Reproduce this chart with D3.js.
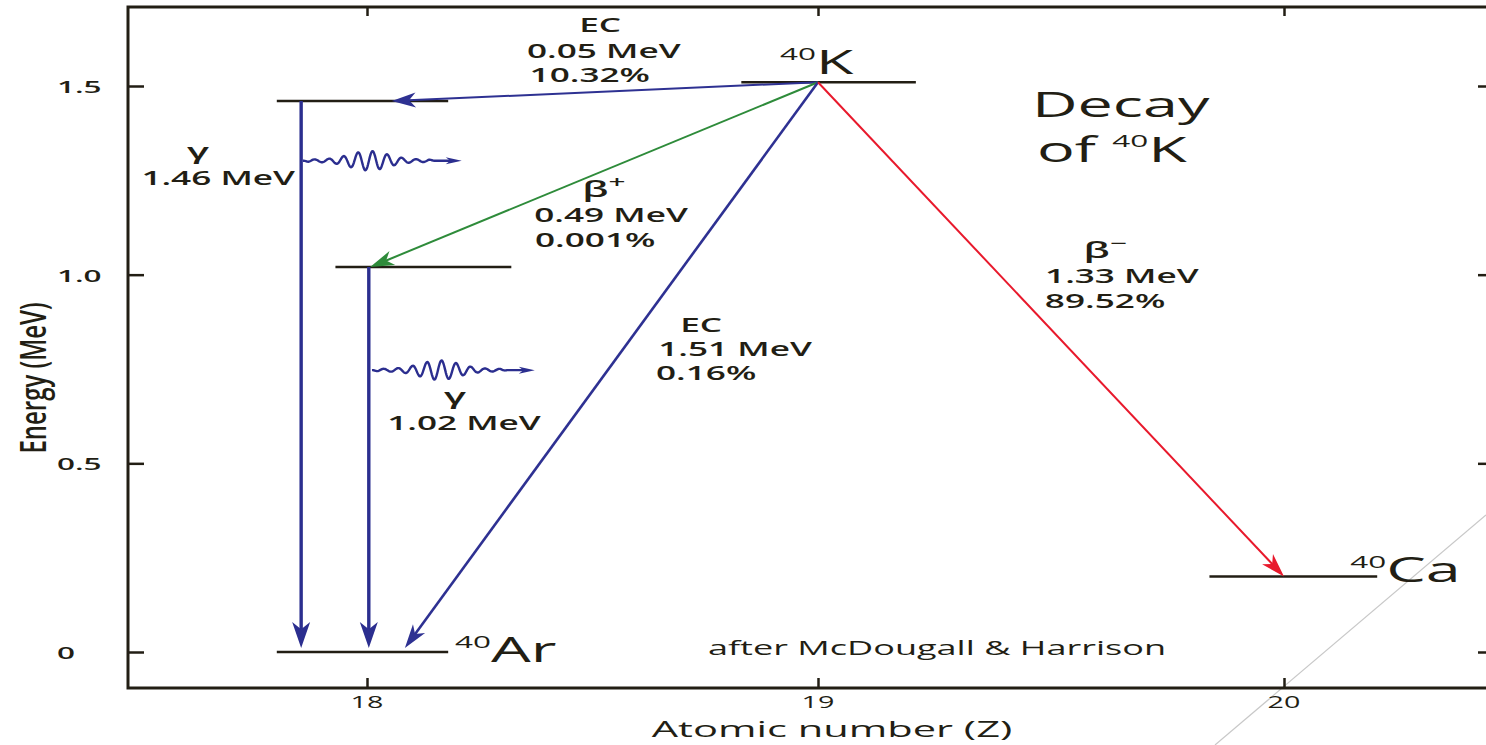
<!DOCTYPE html>
<html><head><meta charset="utf-8">
<script src="https://cdn.jsdelivr.net/npm/d3@7"></script>
<style>
html,body{margin:0;padding:0;background:#fff;overflow:hidden}
text{font-family:"Open Sans",sans-serif;fill:#221e14}
</style></head>
<body><svg id="c" width="1486" height="745"></svg>
<script>
// ---------- data ----------
const zTicks = [18, 19, 20];
const zTickLabels = ["18", "19", "20"];
const eTicks = [0, 0.5, 1.0, 1.5];
const eTickLabels = ["0", "0.5", "1.0", "1.5"];

// energy levels: nuclide, energy (MeV), Z extent
const levelName = ["40K", "40Ar*", "40Ar*", "40Ar", "40Ca"];
const levelE    = [1.51, 1.46, 1.02, 0, 0.2];
const levelZ0   = [18.83, 17.80, 17.93, 17.80, 19.84];
const levelZ1   = [19.21, 18.18, 18.32, 18.18, 20.20];

// transitions: type, from (Z,E) -> to (Z,E)
const trType  = ["EC", "beta+", "EC", "beta-", "gamma", "gamma"];
const trFromZ = [19, 19, 19, 19, 17.854, 18.004];
const trFromE = [1.51, 1.51, 1.51, 1.51, 1.46, 1.02];
const trToZ   = [18.055, 18.007, 18.084, 20.0, 17.854, 18.004];
const trToE   = [1.46, 1.02, 0.0, 0.2, 0.0, 0.0];

// emitted photons: start (Z,E), end Z
const phZ0 = [17.858, 18.011];
const phE  = [1.302, 0.747];
const phZ1 = [18.21, 18.372];

// annotation text anchored at (Z, E)
const annZ = [18.517, 18.525, 18.494, 17.670, 18.541, 18.506, 18.741, 18.816, 18.752, 18.215, 19.652, 19.616];
const annE = [1.643, 1.574, 1.511, 1.238, 1.140, 1.073, 0.848, 0.784, 0.721, 0.588, 0.978, 0.912];
const annText = ["EC", "0.05 MeV", "10.32%", "1.46 MeV", "0.49 MeV", "0.001%", "EC", "1.51 MeV", "0.16%", "1.02 MeV", "1.33 MeV", "89.52%"];
// particle symbols anchored at (Z, E)
const symZ = [17.625, 18.195, 18.525, 19.616];
const symE = [1.306, 0.657, 1.206, 1.044];
const symText = ["γ", "γ", "β", "β"];
const symSup = ["", "", "+", "−"];

// ---------- scales ----------
const svg = d3.select("#c");
const x = d3.scaleLinear().domain([18, 19, 20]).range([367, 818, 1284]);
const y = d3.scaleLinear().domain([0, 1.5]).range([652, 86]);
const fL = 128, fR = 1492, fT = 7, fB = 688;
const SX = 1.85;
const ink = "#221e14";
const col = {"EC": "#2e3192", "beta+": "#2e8b3a", "beta-": "#e8192c", "gamma": "#2b2e8f"};

// faint diagonal guide line
svg.append("line").attr("x1", 1215).attr("y1", 745).attr("x2", 1486).attr("y2", 515)
  .attr("stroke", "#c8c8c8").attr("stroke-width", 1.2);

// frame
const g = svg.append("g");
g.append("path").attr("d", `M${fR},${fT}H${fL}V${fB}H${fR}`)
  .attr("fill", "none").attr("stroke", ink).attr("stroke-width", 3);

const styleAxis = s => { s.select(".domain").remove(); s.selectAll("line").attr("stroke", ink).attr("stroke-width", 2.5); };
g.append("g").attr("transform", `translate(${fL},0)`).call(d3.axisRight(y).tickValues(eTicks).tickSize(16).tickFormat("")).call(styleAxis);
g.append("g").attr("transform", `translate(${fR},0)`).call(d3.axisLeft(y).tickValues(eTicks).tickSize(14).tickFormat("")).call(styleAxis);
g.append("g").attr("transform", `translate(0,${fB})`).call(d3.axisTop(x).tickValues(zTicks).tickSize(10).tickFormat("")).call(styleAxis);
g.append("g").attr("transform", `translate(0,${fT})`).call(d3.axisBottom(x).tickValues(zTicks).tickSize(9).tickFormat("")).call(styleAxis);

function txt(px, py, size, anchor, weight) {
  return svg.append("text")
    .attr("transform", `translate(${px},${py}) scale(${SX},1)`)
    .attr("font-size", size).attr("text-anchor", anchor || "middle")
    .attr("font-weight", weight || 400);
}
// tick labels
eTicks.forEach((v, i) => txt(57, y(v) + 7, 17, "start", 600).text(eTickLabels[i]));
zTicks.forEach((v, i) => txt(x(v), 708, 15.5, "middle", 400).text(zTickLabels[i]));
// axis titles
txt(832, 737, 22.5, "middle", 500).text("Atomic number (Z)");
svg.append("text").attr("transform", `translate(46,378) rotate(-90) scale(1,1.5)`)
  .attr("font-size", 24).attr("text-anchor", "middle").attr("font-weight", 600).text("Energy (MeV)");

// levels
levelE.forEach((e, i) => {
  svg.append("line").attr("x1", x(levelZ0[i])).attr("x2", x(levelZ1[i]))
    .attr("y1", y(e)).attr("y2", y(e)).attr("stroke", ink).attr("stroke-width", 2.5);
});

// arrowhead
function head(px, py, ang, L, W, color) {
  const c = Math.cos(ang), s = Math.sin(ang);
  const pt = (u, v) => [px + u * c - v * s, py + u * s + v * c];
  const pts = [pt(0, 0), pt(-L, W / 2), pt(-L * 0.72, 0), pt(-L, -W / 2)];
  svg.append("path").attr("d", "M" + pts.map(p => p.join(",")).join("L") + "Z").attr("fill", color);
}

// transitions
trType.forEach((t, i) => {
  const toGround = trToE[i] === 0;
  const x0 = x(trFromZ[i]), y0 = y(trFromE[i]), x1 = x(trToZ[i]), y1 = y(trToE[i]) - (toGround ? 4 : 0);
  const ang = Math.atan2(y1 - y0, x1 - x0);
  const L = t === "gamma" ? 26 : 24, W = t === "gamma" ? 18 : 15;
  const sw = t === "gamma" ? 3.4 : (toGround ? 2.6 : 2);
  svg.append("line").attr("x1", x0).attr("y1", y0)
    .attr("x2", x1 - Math.cos(ang) * L * 0.7).attr("y2", y1 - Math.sin(ang) * L * 0.7)
    .attr("stroke", col[t]).attr("stroke-width", sw);
  head(x1, y1, ang, L, W, col[t]);
});

// photons (wavy glyphs)
phZ0.forEach((z0, i) => {
  const px0 = x(z0), px1 = x(phZ1[i]), py = y(phE[i]);
  const Lw = (px1 - px0) * 0.83;
  const pts = d3.range(0, Lw + 0.01, 0.5).map(t => {
    const u = t / Lw;
    const amp = 1.2 + 8.5 * Math.exp(-Math.pow((u - 0.5) / 0.2, 2));
    const damp = Math.min(1, t / 6) * Math.min(1, (Lw - t) / 6);
    return [px0 + t, py - amp * damp * Math.sin(2 * Math.PI * (t - 8) / 14.5)];
  });
  pts.push([px1 - 8, py]);
  svg.append("path").attr("d", d3.line()(pts)).attr("fill", "none")
    .attr("stroke", col.gamma).attr("stroke-width", 2.4);
  head(px1, py, 0, 16, 7, col.gamma);
});

// annotations
annText.forEach((s, i) => txt(x(annZ[i]), y(annE[i]), 19, "middle", 600).text(s));
symText.forEach((s, i) => {
  const t = txt(x(symZ[i]), y(symE[i]), 22, "middle", 600);
  t.append("tspan").text(s);
  if (symSup[i]) t.append("tspan").attr("font-size", 16).attr("dy", -9).text(symSup[i]);
});
// nuclide labels
function nuclide(z, e, sym, size, supSize) {
  const t = txt(x(z), y(e), size, "start", 400);
  t.append("tspan").attr("font-size", supSize).attr("dy", -size * 0.42).text("40");
  t.append("tspan").attr("dy", size * 0.42).text(sym);
  return t;
}
nuclide(18.916, 1.532, "K", 33, 17);
nuclide(18.195, -0.027, "Ar", 34, 17);
nuclide(20.142, 0.186, "Ca", 34, 17);
// title
txt(x(19.459), y(1.418), 34, "start", 400).text("Decay");
{
  const t = txt(x(19.470), y(1.299), 34, "start", 400);
  t.append("tspan").text("of ");
  t.append("tspan").attr("font-size", 17).attr("dy", -15).text("40");
  t.append("tspan").attr("dy", 15).text("K");
}
txt(x(18.756), y(-0.008), 19.5, "start", 500).text("after McDougall & Harrison");
</script></body></html>
